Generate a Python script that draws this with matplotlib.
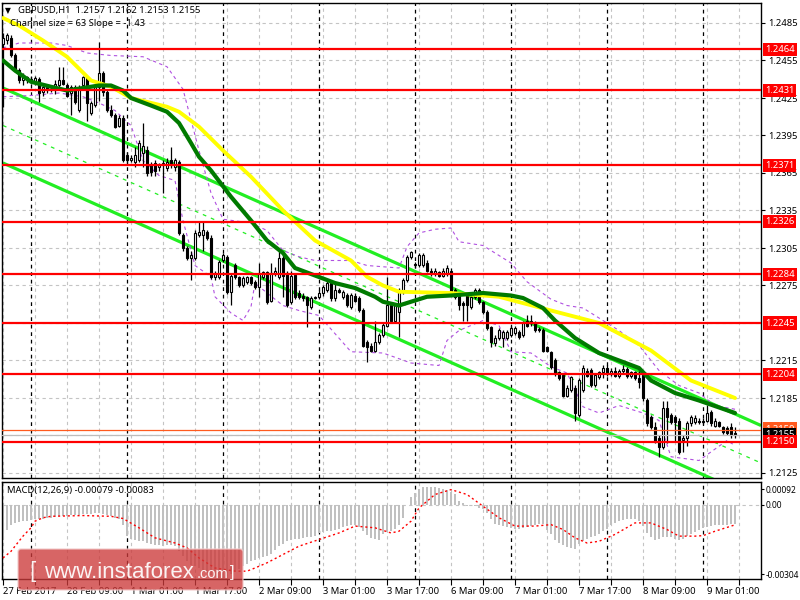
import matplotlib
matplotlib.use("Agg")
import matplotlib.pyplot as plt
import matplotlib.transforms as mtransforms
from matplotlib.patches import FancyBboxPatch
import numpy as np

plt.rcParams['font.family'] = ['Noto Sans', 'DejaVu Sans']

# ---------------- data (GBPUSD H1, 27 Feb 17:00 .. 9 Mar 08:00) ----------------
opens = [1.2468,1.2471,1.2473,1.2459,1.2447,1.2439,1.2442,1.2439,1.2438,1.2440,
 1.2430,1.2434,1.2431,1.2431,1.2435,1.2439,1.2435,1.2429,1.2434,1.2415,
 1.2435,1.2442,1.2413,1.2419,1.2434,1.2445,1.2430,1.2415,1.2411,1.2403,
 1.2409,1.2379,1.2375,1.2374,1.2375,1.2381,1.2383,1.2371,1.2373,1.2370,
 1.2371,1.2369,1.2375,1.2370,1.2374,1.2315,1.2305,1.2297,1.2297,1.2315,
 1.2315,1.2318,1.2313,1.2282,1.2282,1.2295,1.2298,1.2270,1.2291,1.2282,
 1.2275,1.2278,1.2282,1.2278,1.2274,1.2282,1.2286,1.2263,1.2285,1.2282,
 1.2297,1.2285,1.2262,1.2283,1.2269,1.2267,1.2266,1.2258,1.2265,1.2266,
 1.2269,1.2271,1.2277,1.2265,1.2271,1.2266,1.2267,1.2258,1.2267,1.2265,
 1.2255,1.2230,1.2227,1.2223,1.2230,1.2235,1.2243,1.2259,1.2247,1.2254,
 1.2270,1.2279,1.2298,1.2292,1.2291,1.2291,1.2293,1.2287,1.2285,1.2286,
 1.2283,1.2285,1.2287,1.2271,1.2267,1.2261,1.2267,1.2258,1.2266,1.2271,
 1.2262,1.2254,1.2242,1.2229,1.2233,1.2233,1.2233,1.2235,1.2237,1.2238,
 1.2235,1.2247,1.2245,1.2245,1.2240,1.2239,1.2226,1.2222,1.2215,1.2206,
 1.2203,1.2187,1.2191,1.2193,1.2171,1.2191,1.2207,1.2207,1.2195,1.2202,
 1.2206,1.2209,1.2205,1.2207,1.2203,1.2207,1.2208,1.2203,1.2206,1.2201,
 1.2203,1.2183,1.2170,1.2162,1.2153,1.2146,1.2177,1.2171,1.2170,1.2167,
 1.2151,1.2153,1.2165,1.2166,1.2167,1.2167,1.2167,1.2174,1.2163,1.2166,
 1.2162,1.2161,1.2162,1.2157]
highs = [1.2477,1.2477,1.2475,1.2461,1.2449,1.2445,1.2443,1.2443,1.2443,1.2442,
 1.2436,1.2435,1.2435,1.2439,1.2450,1.2450,1.2437,1.2435,1.2435,1.2435,
 1.2443,1.2443,1.2423,1.2436,1.2470,1.2447,1.2431,1.2419,1.2413,1.2411,
 1.2411,1.2382,1.2379,1.2386,1.2391,1.2405,1.2387,1.2374,1.2375,1.2373,
 1.2375,1.2377,1.2386,1.2377,1.2375,1.2317,1.2307,1.2303,1.2319,1.2327,
 1.2327,1.2319,1.2315,1.2287,1.2295,1.2301,1.2299,1.2285,1.2293,1.2283,
 1.2283,1.2283,1.2283,1.2279,1.2293,1.2287,1.2287,1.2293,1.2290,1.2303,
 1.2303,1.2287,1.2287,1.2285,1.2271,1.2269,1.2267,1.2267,1.2267,1.2271,
 1.2275,1.2279,1.2279,1.2278,1.2273,1.2271,1.2269,1.2269,1.2269,1.2267,
 1.2257,1.2231,1.2229,1.2247,1.2237,1.2245,1.2282,1.2261,1.2261,1.2273,
 1.2281,1.2299,1.2303,1.2294,1.2301,1.2301,1.2295,1.2289,1.2289,1.2287,
 1.2289,1.2291,1.2289,1.2273,1.2269,1.2263,1.2269,1.2267,1.2273,1.2273,
 1.2263,1.2255,1.2243,1.2235,1.2241,1.2239,1.2239,1.2243,1.2243,1.2239,
 1.2247,1.2251,1.2251,1.2247,1.2242,1.2241,1.2227,1.2223,1.2217,1.2207,
 1.2205,1.2195,1.2203,1.2195,1.2201,1.2211,1.2209,1.2209,1.2205,1.2207,
 1.2211,1.2211,1.2209,1.2210,1.2208,1.2211,1.2210,1.2207,1.2207,1.2207,
 1.2207,1.2185,1.2171,1.2166,1.2155,1.2183,1.2183,1.2173,1.2171,1.2169,
 1.2155,1.2167,1.2171,1.2171,1.2169,1.2169,1.2179,1.2175,1.2169,1.2167,
 1.2163,1.2163,1.2165,1.2162]
lows = [1.2418,1.2468,1.2458,1.2446,1.2437,1.2435,1.2437,1.2436,1.2435,1.2422,
 1.2427,1.2429,1.2430,1.2428,1.2433,1.2435,1.2426,1.2411,1.2420,1.2414,
 1.2433,1.2407,1.2411,1.2418,1.2423,1.2427,1.2414,1.2410,1.2401,1.2402,
 1.2374,1.2371,1.2374,1.2370,1.2374,1.2370,1.2363,1.2363,1.2363,1.2367,
 1.2349,1.2367,1.2369,1.2367,1.2315,1.2303,1.2295,1.2279,1.2295,1.2314,
 1.2303,1.2311,1.2280,1.2279,1.2280,1.2294,1.2268,1.2259,1.2280,1.2274,
 1.2274,1.2276,1.2275,1.2272,1.2266,1.2280,1.2260,1.2262,1.2283,1.2280,
 1.2266,1.2258,1.2260,1.2264,1.2264,1.2263,1.2242,1.2256,1.2264,1.2264,
 1.2267,1.2270,1.2263,1.2263,1.2269,1.2264,1.2258,1.2256,1.2262,1.2254,
 1.2226,1.2214,1.2222,1.2222,1.2228,1.2234,1.2242,1.2246,1.2246,1.2234,
 1.2268,1.2278,1.2296,1.2289,1.2290,1.2290,1.2286,1.2283,1.2283,1.2282,
 1.2282,1.2283,1.2268,1.2264,1.2255,1.2247,1.2247,1.2256,1.2264,1.2260,
 1.2252,1.2239,1.2226,1.2227,1.2231,1.2226,1.2231,1.2234,1.2235,1.2232,
 1.2234,1.2242,1.2243,1.2238,1.2238,1.2222,1.2222,1.2208,1.2203,1.2199,
 1.2186,1.2186,1.2190,1.2167,1.2170,1.2190,1.2202,1.2194,1.2194,1.2200,
 1.2201,1.2203,1.2203,1.2202,1.2201,1.2205,1.2201,1.2201,1.2199,1.2193,
 1.2183,1.2163,1.2160,1.2149,1.2138,1.2144,1.2149,1.2164,1.2150,1.2140,
 1.2142,1.2147,1.2163,1.2164,1.2164,1.2164,1.2166,1.2163,1.2162,1.2162,
 1.2156,1.2155,1.2153,1.2153]
closes = [1.2473,1.2475,1.2459,1.2447,1.2439,1.2442,1.2439,1.2440,1.2441,1.2429,
 1.2434,1.2431,1.2432,1.2436,1.2439,1.2436,1.2427,1.2434,1.2422,1.2434,
 1.2442,1.2421,1.2421,1.2434,1.2445,1.2430,1.2415,1.2411,1.2402,1.2409,
 1.2375,1.2375,1.2377,1.2379,1.2389,1.2387,1.2365,1.2366,1.2367,1.2371,
 1.2373,1.2374,1.2371,1.2375,1.2317,1.2305,1.2297,1.2299,1.2317,1.2318,
 1.2319,1.2313,1.2282,1.2285,1.2294,1.2299,1.2270,1.2283,1.2282,1.2275,
 1.2281,1.2282,1.2277,1.2274,1.2285,1.2286,1.2262,1.2285,1.2287,1.2297,
 1.2283,1.2259,1.2283,1.2266,1.2266,1.2265,1.2259,1.2265,1.2266,1.2269,
 1.2274,1.2277,1.2265,1.2271,1.2270,1.2270,1.2259,1.2267,1.2263,1.2255,
 1.2227,1.2226,1.2223,1.2230,1.2235,1.2243,1.2259,1.2247,1.2259,1.2271,
 1.2279,1.2298,1.2302,1.2291,1.2299,1.2299,1.2287,1.2285,1.2287,1.2283,
 1.2287,1.2289,1.2270,1.2266,1.2259,1.2259,1.2259,1.2266,1.2271,1.2262,
 1.2254,1.2241,1.2230,1.2233,1.2239,1.2238,1.2238,1.2241,1.2241,1.2234,
 1.2245,1.2243,1.2247,1.2239,1.2239,1.2223,1.2223,1.2210,1.2205,1.2201,
 1.2187,1.2193,1.2202,1.2173,1.2199,1.2209,1.2203,1.2195,1.2203,1.2206,
 1.2209,1.2205,1.2207,1.2203,1.2207,1.2208,1.2203,1.2206,1.2201,1.2198,
 1.2185,1.2165,1.2162,1.2150,1.2146,1.2177,1.2170,1.2166,1.2166,1.2142,
 1.2153,1.2165,1.2170,1.2169,1.2166,1.2166,1.2173,1.2165,1.2167,1.2163,
 1.2158,1.2157,1.2155,1.2155]

# moving averages (bar index, price)
ma_slow_bars = [0, 4, 10, 16, 22, 27, 32, 41, 44, 49, 55, 62, 70, 78, 87, 91, 95, 99, 112, 124, 137, 149, 162, 172, 183]
ma_slow_vals = [1.2489, 1.2483, 1.2471, 1.2458, 1.2439, 1.2434, 1.2425, 1.2418, 1.2414, 1.2402, 1.2383, 1.2362,
                1.2335, 1.2311, 1.2295, 1.2282, 1.2275, 1.2270, 1.2269, 1.2266, 1.2255, 1.2245, 1.2223, 1.2199, 1.2185]
ma_fast_bars = [0, 3, 7, 12, 16, 20, 24, 27, 30, 32, 37, 41, 44, 47, 49, 52, 57, 62, 66, 70, 73, 78, 83, 88, 93,
                95, 99, 101, 106, 112, 120, 127, 130, 135, 138, 143, 149, 154, 159, 162, 168, 174, 183]
ma_fast_vals = [1.2455, 1.2447, 1.2438, 1.2434, 1.2431, 1.2433, 1.2435, 1.2435, 1.2431, 1.2425, 1.2419, 1.2414,
                1.2405, 1.2389, 1.2378, 1.2367, 1.2346, 1.2327, 1.2311, 1.2301, 1.2289, 1.2283, 1.2277, 1.2273,
                1.2266, 1.2262, 1.2259, 1.2261, 1.2266, 1.2267, 1.2269, 1.2267, 1.2265, 1.2257, 1.2247, 1.2233,
                1.2221, 1.2215, 1.2209, 1.2199, 1.2189, 1.2183, 1.2173]

# envelope bands (purple dotted)
band_up_bars = [0, 4, 12, 16, 21, 27, 35, 41, 45, 49, 52, 55, 62, 66, 70, 74, 78, 87, 91, 95, 99, 101, 104, 108,
                112, 114, 120, 127, 131, 137, 141, 145, 149, 154, 159, 164, 169, 174, 178, 183]
band_up_vals = [1.2465, 1.2469, 1.2469, 1.2467, 1.2461, 1.2459, 1.2458, 1.2450, 1.2432, 1.2383, 1.2349, 1.2328,
                1.2325, 1.2319, 1.2303, 1.2298, 1.2295, 1.2295, 1.2291, 1.2290, 1.2289, 1.2306, 1.2317, 1.2320,
                1.2321, 1.2310, 1.2307, 1.2293, 1.2278, 1.2264, 1.2259, 1.2257, 1.2249, 1.2239, 1.2227, 1.2207,
                1.2195, 1.2189, 1.2179, 1.2176]
band_dn_bars = [0, 7, 14, 20, 24, 28, 32, 35, 39, 43, 45, 48, 52, 53, 57, 60, 62, 63, 66, 70, 74, 79, 87, 95,
                102, 109, 111, 114, 120, 124, 127, 132, 137, 141, 145, 149, 154, 160, 164, 167, 174, 181, 183]
band_dn_vals = [1.2426, 1.2427, 1.2429, 1.2426, 1.2421, 1.2415, 1.2403, 1.2375, 1.2363, 1.2359, 1.2327, 1.2291,
                1.2282, 1.2266, 1.2253, 1.2247, 1.2258, 1.2277, 1.2269, 1.2259, 1.2255, 1.2251, 1.2222, 1.2221,
                1.2213, 1.2211, 1.2231, 1.2239, 1.2247, 1.2243, 1.2222, 1.2221, 1.2210, 1.2205, 1.2178, 1.2173,
                1.2179, 1.2173, 1.2167, 1.2138, 1.2135, 1.2151, 1.2147]

# regression channel (start bar, end bar) and prices
channel_bars = [0, 189.5]
channel_upper = [1.2433, 1.2163]
channel_mid = [1.2403, 1.2133]
channel_lower = [1.2373, 1.2103]

levels = [1.2464, 1.2431, 1.2371, 1.2326, 1.2284, 1.2245, 1.2204, 1.2150]
price_ticks = [1.2125, 1.2185, 1.2215, 1.2275, 1.2305, 1.2335, 1.2365, 1.2395, 1.2425, 1.2455, 1.2485]
grid_prices = [1.2125, 1.2155, 1.2185, 1.2215, 1.2245, 1.2275, 1.2305, 1.2335, 1.2365, 1.2395, 1.2425, 1.2455, 1.2485]
last_price = 1.2155
ref_price = 1.2159

macd_hist = [-0.00143,-0.00102,-0.00082,-0.00076,-0.00072,-0.00069,-0.00067,-0.00064,-0.00061,-0.00060,
 -0.00059,-0.00056,-0.00053,-0.00050,-0.00048,-0.00046,-0.00045,-0.00044,-0.00042,-0.00041,
 -0.00039,-0.00038,-0.00037,-0.00035,-0.00034,-0.00038,-0.00042,-0.00048,-0.00054,-0.00061,
 -0.00082,-0.00129,-0.00139,-0.00144,-0.00147,-0.00147,-0.00157,-0.00163,-0.00166,-0.00167,
 -0.00169,-0.00166,-0.00166,-0.00169,-0.00188,-0.00211,-0.00231,-0.00245,-0.00252,-0.00259,
 -0.00269,-0.00279,-0.00289,-0.00297,-0.00302,-0.00302,-0.00293,-0.00283,-0.00272,-0.00263,
 -0.00252,-0.00242,-0.00231,-0.00225,-0.00218,-0.00214,-0.00210,-0.00201,-0.00184,-0.00170,
 -0.00161,-0.00150,-0.00144,-0.00142,-0.00139,-0.00136,-0.00133,-0.00131,-0.00128,-0.00117,
 -0.00113,-0.00110,-0.00109,-0.00103,-0.00098,-0.00093,-0.00088,-0.00084,-0.00082,-0.00093,
 -0.00109,-0.00125,-0.00136,-0.00142,-0.00143,-0.00122,-0.00112,-0.00106,-0.00099,-0.00082,
 -0.00054,0.00000,0.00030,0.00048,0.00065,0.00072,0.00072,0.00072,0.00071,0.00068,
 0.00065,0.00061,0.00052,0.00041,0.00016,0.00005,-0.00004,-0.00007,-0.00008,-0.00014,
 -0.00020,-0.00034,-0.00061,-0.00079,-0.00084,-0.00088,-0.00093,-0.00095,-0.00098,-0.00098,
 -0.00095,-0.00093,-0.00088,-0.00082,-0.00079,-0.00079,-0.00102,-0.00120,-0.00143,-0.00157,
 -0.00166,-0.00174,-0.00177,-0.00180,-0.00163,-0.00150,-0.00140,-0.00133,-0.00127,-0.00120,
 -0.00109,-0.00098,-0.00084,-0.00075,-0.00068,-0.00063,-0.00060,-0.00059,-0.00059,-0.00068,
 -0.00088,-0.00116,-0.00133,-0.00143,-0.00139,-0.00133,-0.00132,-0.00133,-0.00139,-0.00143,
 -0.00139,-0.00129,-0.00120,-0.00112,-0.00102,-0.00095,-0.00093,-0.00088,-0.00084,-0.00082,
 -0.00082,-0.00082,-0.00080,-0.00079]
signal_bars = [0, 2, 3, 5, 7, 8, 10, 12, 20, 27, 30, 34, 38, 43, 46, 49, 53, 58, 61, 63, 66, 70, 74, 79, 84, 88,
               93, 97, 99, 102, 104, 108, 112, 116, 120, 124, 128, 133, 137, 140, 143, 146, 149, 153, 158, 162,
               166, 169, 173, 175, 178, 183]
signal_vals = [-0.00218, -0.00191, -0.00170, -0.00129, -0.00095, -0.00068, -0.00054, -0.00048, -0.00045, -0.00048,
               -0.00057, -0.00095, -0.00136, -0.00157, -0.00177, -0.00218, -0.00259, -0.00272, -0.00272, -0.00259,
               -0.00238, -0.00204, -0.00170, -0.00143, -0.00116, -0.00088, -0.00095, -0.00116, -0.00109, -0.00068,
               -0.00014, 0.00041, 0.00061, 0.00041, -0.00007, -0.00054, -0.00088, -0.00088, -0.00082, -0.00102,
               -0.00136, -0.00157, -0.00150, -0.00122, -0.00075, -0.00075, -0.00102, -0.00129, -0.00129, -0.00127,
               -0.00109, -0.00083]
macd_max, macd_min = 0.00092, -0.00304

time_labels = ["27 Feb 2017", "28 Feb 09:00", "1 Mar 01:00", "1 Mar 17:00", "2 Mar 09:00", "3 Mar 01:00",
               "3 Mar 17:00", "6 Mar 09:00", "7 Mar 01:00", "7 Mar 17:00", "8 Mar 09:00", "9 Mar 01:00"]
time_label_bars = [0, 16, 32, 48, 64, 80, 96, 112, 128, 144, 160, 176]
day_sep_bars = [7, 31, 55, 79, 103, 127, 151, 175]

# ---------------- figure ----------------
W, H = 800, 600
fig = plt.figure(figsize=(8, 6), dpi=100)
fig.patch.set_facecolor('white')

def fbox(l, t, r, b):
    return [l / W, 1 - b / H, (r - l) / W, (b - t) / H]

ax = fig.add_axes(fbox(2, 3, 761, 478))
axm = fig.add_axes(fbox(2, 482, 761, 579))
XL = (-0.25, 189.5)
FS = 6.8
GRID = '#C4C4C4'

for a in (ax, axm):
    a.set_xlim(*XL)
    for s in a.spines.values():
        s.set_color('black')
        s.set_linewidth(1.0)
    a.set_facecolor('white')

ax.set_ylim(1.2121, 1.2501)
axm.set_ylim(macd_min, macd_max)

# grids
grid_bars = np.arange(0, 190, 8)
for a in (ax, axm):
    for b in grid_bars:
        a.axvline(b, color=GRID, lw=0.8, ls=(0, (3, 3)), zorder=0.5)
    for b in day_sep_bars:
        a.axvline(b, color='black', lw=0.9, ls=(0, (3, 3)), zorder=0.6)
for p in grid_prices:
    ax.axhline(p, color=GRID, lw=0.8, ls=(0, (3, 3)), zorder=0.5)
axm.axhline(0, color=GRID, lw=0.8, ls=(0, (3, 3)), zorder=0.5)

# channel
ax.plot(channel_bars, channel_upper, color='#22EE22', lw=2.3, zorder=2, solid_capstyle='butt')
ax.plot(channel_bars, channel_lower, color='#22EE22', lw=2.3, zorder=2, solid_capstyle='butt')
ax.plot(channel_bars, channel_mid, color='#22EE22', lw=0.9, ls=(0, (3, 4)), zorder=2)

# bands
ax.plot(band_up_bars, band_up_vals, color='#B050E0', lw=0.8, ls=(0, (3, 3)), zorder=2.2)
ax.plot(band_dn_bars, band_dn_vals, color='#B050E0', lw=0.8, ls=(0, (3, 3)), zorder=2.2)

# candles
o = np.array(opens); h = np.array(highs); l = np.array(lows); c = np.array(closes)
idx = np.arange(len(c))
ax.vlines(idx, l, h, color='black', lw=0.9, zorder=3)
bot = np.minimum(o, c)
hgt = np.maximum(np.abs(c - o), 0.00002)
up = c >= o
ax.bar(idx[up], hgt[up], bottom=bot[up], width=0.62, color='white', edgecolor='black', lw=0.8, zorder=3.2)
ax.bar(idx[~up], hgt[~up], bottom=bot[~up], width=0.62, color='black', edgecolor='black', lw=0.8, zorder=3.2)

# moving averages
ax.plot(ma_slow_bars, ma_slow_vals, color='#FFFF00', lw=2.8, zorder=4, solid_capstyle='round')
ax.plot(ma_fast_bars, ma_fast_vals, color='#007A00', lw=3.0, zorder=4.1, solid_capstyle='round')

# level lines
for lv in levels:
    ax.axhline(lv, color='#FF0000', lw=1.6, zorder=5)
ax.axhline(ref_price, color='#FF5A1E', lw=0.9, zorder=5)
ax.axhline(last_price, color='#BDBDBD', lw=0.9, zorder=5)

# right axis of price panel
ax.yaxis.tick_right()
ax.set_yticks(price_ticks)
ax.set_yticklabels(['%.4f' % p for p in price_ticks])
ax.tick_params(axis='y', labelsize=FS, length=3, width=0.8, pad=2, colors='black')
ax.set_xticks([])

trans = mtransforms.blended_transform_factory(ax.transAxes, ax.transData)
LX = 1.0 + 4 / 759

for lv in levels:
    ax.text(LX, lv, '%.4f' % lv, transform=trans, fontsize=FS, color='white',
            va='center', ha='left', clip_on=False, zorder=12 if lv == 1.2150 else 10,
            bbox=dict(boxstyle='square,pad=0.22', facecolor='#FF0000', edgecolor='none'))
# orange reference label, mostly covered by the black last-price label (as in the terminal)
ax.text(LX, ref_price + 0.00012, '%.4f' % ref_price, transform=trans, fontsize=FS, color='white',
        va='center', ha='left', clip_on=False, zorder=10.5,
        bbox=dict(boxstyle='square,pad=0.22', facecolor='#FF5A1E', edgecolor='none'))
ax.text(LX, last_price + 0.00004, '%.4f' % last_price, transform=trans, fontsize=FS, color='white',
        va='center', ha='left', clip_on=False, zorder=11,
        bbox=dict(boxstyle='square,pad=0.22', facecolor='black', edgecolor='none'))

# MACD panel
axm.bar(idx, macd_hist, width=0.55, color='#C0C0C0', zorder=2)
axm.plot(signal_bars, signal_vals, color='#FF0000', lw=1.0, ls=(0, (1.5, 2)), zorder=3)
scale = 97 / (macd_max - macd_min)
tick_px = [489, 504.5, 574]
tick_vals = [(504.5 - y) / scale for y in tick_px]
axm.yaxis.tick_right()
axm.set_yticks(tick_vals)
axm.set_yticklabels(['0.00092', '0.00', '-0.00304'])
axm.tick_params(axis='y', labelsize=6.0, length=2.5, width=0.8, pad=1)
axm.set_xticks(time_label_bars)
axm.set_xticklabels(time_labels)
axm.set_xticks(np.arange(8, 190, 16), minor=True)
axm.tick_params(axis='x', which='both', length=4, width=0.8, labelsize=FS, pad=1.5, direction='out')
for t in axm.get_xticklabels():
    t.set_ha('left')

# header texts
fig.text(5 / W, 1 - 11 / H, '\u25BC', fontsize=5.5, va='center', ha='left', family='DejaVu Sans')
fig.text(18 / W, 1 - 11 / H, 'GBPUSD,H1  1.2157 1.2162 1.2153 1.2155', fontsize=FS, va='center', ha='left')
fig.text(10 / W, 1 - 24 / H, 'Channel size = 63 Slope = -1.43', fontsize=FS, va='center', ha='left')
fig.text(7 / W, 1 - 490 / H, 'MACD(12,26,9) -0.00079 -0.00083', fontsize=FS, va='center', ha='left')

# watermark logo
lax = fig.add_axes(fbox(17, 548, 244, 591))
lax.set_xlim(0, 227); lax.set_ylim(0, 43); lax.axis('off')
lax.add_patch(FancyBboxPatch((1, 1), 225, 41, boxstyle='round,pad=0,rounding_size=3',
                             facecolor='#CC3A3A', edgecolor='#F2C8C8', lw=1.0, alpha=0.78))
lax.text(12, 20, '[', fontsize=16, color='white', alpha=0.92, va='center', ha='left', family='Liberation Sans')
lax.text(27, 19, 'www.instaforex', fontsize=16, color='white', alpha=0.92, va='center', ha='left',
         family='Liberation Sans')
lax.text(180, 16.5, '.com', fontsize=10.5, color='white', alpha=0.92, va='center', ha='left',
         family='Liberation Sans')
lax.text(213, 19, ']', fontsize=12, color='white', alpha=0.92, va='center', ha='left', family='Liberation Sans')

fig.savefig('out.png', dpi=100, facecolor='white')
